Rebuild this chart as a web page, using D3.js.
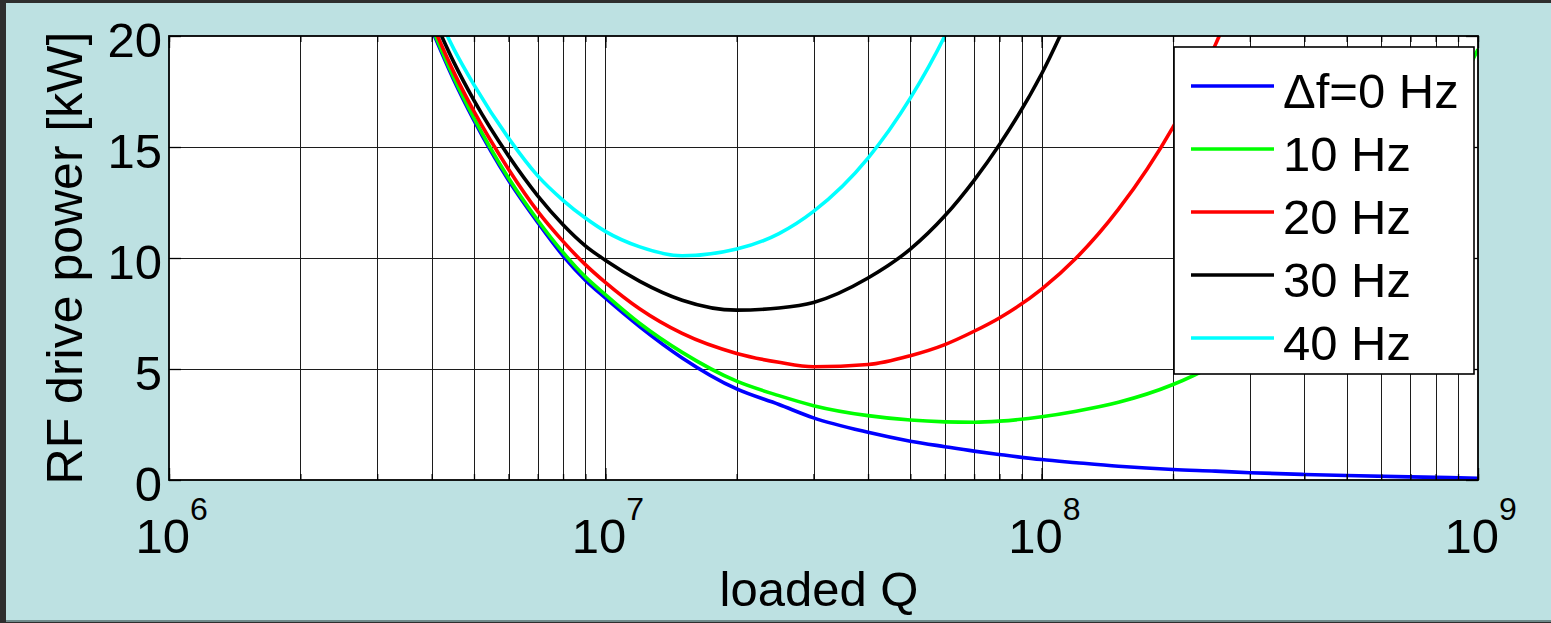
<!DOCTYPE html>
<html>
<head>
    <title>RF drive power vs loaded Q</title>
    <meta charset="utf-8">
    <style>
        body { margin: 0; background: #bde1e2; }
        text { font-family: "Liberation Sans", Arial, Helvetica, sans-serif; fill: #000; }
    </style>
</head>
<body>
<script src="https://d3js.org/d3.v7.min.js"></script>
<script>
    // Loaded Q sample points (shared by all curves)
    const qLoaded = [4e6, 4.5e6, 5e6, 6e6, 7e6, 8e6, 9e6, 1e7, 1.2e7, 1.5e7, 2e7, 2.5e7, 3e7, 4e7,
        5e7, 6e7, 7e7, 8e7, 1e8, 1.2e8, 1.5e8, 2e8, 2.5e8, 3e8, 4e8, 5e8, 7e8, 1e9];
    // RF drive power [kW] for each detuning, null = off the chart
    const pDf0 = [20.3, 18.0, 16.2, 13.5, 11.6, 10.1, 9.0, 8.2, 6.9, 5.5, 4.1, 3.4, 2.8, 2.15,
        1.75, 1.5, 1.3, 1.15, 0.92, 0.78, 0.62, 0.47, 0.4, 0.33, 0.25, 0.2, 0.14, 0.08];
    const pDf10 = [20.4, 18.1, 16.3, 13.6, 11.7, 10.25, 9.15, 8.35, 7.05, 5.75, 4.45, 3.8, 3.35, 2.9,
        2.7, 2.62, 2.6, 2.65, 2.85, 3.1, 3.5, 4.3, 5.2, 6.1, 8.0, 9.9, 13.7, 19.4];
    const pDf20 = [20.6, 18.35, 16.6, 14.0, 12.1, 10.75, 9.7, 8.9, 7.7, 6.6, 5.7, 5.3, 5.1, 5.2,
        5.6, 6.1, 6.7, 7.3, 8.6, 10.0, 12.2, 15.9, 19.6, 23.4, null, null, null, null];
    const pDf30 = [21.0, 18.8, 17.1, 14.6, 12.8, 11.5, 10.55, 9.9, 8.95, 8.1, 7.65, 7.75, 8.0, 9.1,
        10.4, 11.9, 13.5, 15.1, 18.3, 21.6, null, null, null, null, null, null, null, null];
    const pDf40 = [21.5, 19.4, 17.8, 15.4, 13.7, 12.6, 11.8, 11.2, 10.5, 10.1, 10.4, 11.1, 12.1, 14.5,
        17.2, 20.0, 22.9, null, null, null, null, null, null, null, null, null, null, null];
    const seriesNames = ['\u0394f=0 Hz', '10 Hz', '20 Hz', '30 Hz', '40 Hz'];
    const seriesColors = ['#0000ff', '#00ff00', '#ff0000', '#000000', '#00ffff'];
    const xDecades = [1e6, 1e7, 1e8, 1e9];
    const yTicks = [0, 5, 10, 15, 20];

    const W = 1551, H = 623;
    const M = {left: 169, right: 1478, top: 36, bottom: 480};
    const FONT = 49;

    const svg = d3.select('body').append('svg')
        .attr('width', W)
        .attr('height', H)
        .style('display', 'block');

    // Window frame
    svg.append('rect').attr('width', W).attr('height', H).attr('fill', '#2e2e2e');
    svg.append('rect').attr('x', 6).attr('y', 3).attr('width', W - 6).attr('height', H - 5).attr('fill', '#bde1e2');
    svg.append('rect').attr('x', 6).attr('y', H - 3).attr('width', W - 6).attr('height', 2).attr('fill', '#6f8a8a');

    const x = d3.scaleLog().domain([1e6, 1e9]).range([M.left, M.right]);
    const y = d3.scaleLinear().domain([0, 20]).range([M.bottom, M.top]);

    // Plot area
    svg.append('rect')
        .attr('x', M.left).attr('y', M.top)
        .attr('width', M.right - M.left).attr('height', M.bottom - M.top)
        .attr('fill', '#fff');

    // Grid lines at every minor decade step
    const minor = [];
    xDecades.slice(0, -1).forEach(d => { for (let k = 1; k < 10; k++) minor.push(d * k); });
    minor.push(1e9);

    const grid = svg.append('g').attr('stroke', '#1c1c1c').attr('stroke-width', 1);
    grid.selectAll('.vg').data(minor.slice(1, -1)).enter().append('line')
        .attr('x1', d => Math.round(x(d)) + 0.5).attr('x2', d => Math.round(x(d)) + 0.5)
        .attr('y1', M.top).attr('y2', M.bottom);
    grid.selectAll('.hg').data(yTicks.slice(1, -1)).enter().append('line')
        .attr('x1', M.left).attr('x2', M.right)
        .attr('y1', d => Math.round(y(d)) + 0.5).attr('y2', d => Math.round(y(d)) + 0.5);

    // Curves
    svg.append('clipPath').attr('id', 'plotClip').append('rect')
        .attr('x', M.left).attr('y', M.top)
        .attr('width', M.right - M.left).attr('height', M.bottom - M.top);

    const allSeries = [pDf0, pDf10, pDf20, pDf30, pDf40];
    const line = d3.line()
        .defined(d => d[1] !== null)
        .x(d => x(d[0]))
        .y(d => y(d[1]))
        .curve(d3.curveMonotoneX);

    svg.append('g').attr('clip-path', 'url(#plotClip)')
        .selectAll('path').data(allSeries).enter().append('path')
        .attr('d', s => line(s.map((p, i) => [qLoaded[i], p])))
        .attr('fill', 'none')
        .attr('stroke', (s, i) => seriesColors[i])
        .attr('stroke-width', 3.6)
        .attr('stroke-linejoin', 'round');

    // Axes (ticks inside, MATLAB style)
    const styleAxis = g => {
        g.select('.domain').remove();
        g.selectAll('line').attr('stroke', '#000').attr('stroke-width', 1.3);
        g.selectAll('text').style('font-size', FONT + 'px').style('font-family', '"Liberation Sans", Arial, sans-serif');
    };
    svg.append('g').attr('transform', `translate(${M.left},0)`)
        .call(d3.axisLeft(y).tickValues(yTicks).tickSizeInner(-12).tickSizeOuter(0).tickPadding(7))
        .call(styleAxis)
        .call(g => g.selectAll('text').attr('dy', '0.42em'));
    svg.append('g').attr('transform', `translate(${M.right},0)`)
        .call(d3.axisRight(y).tickValues(yTicks).tickSizeInner(-12).tickSizeOuter(0).tickFormat(''))
        .call(styleAxis);
    svg.append('g').attr('transform', `translate(0,${M.bottom})`)
        .call(d3.axisBottom(x).tickValues(xDecades).tickSizeInner(-12).tickSizeOuter(0).tickFormat(''))
        .call(styleAxis);
    svg.append('g').attr('transform', `translate(0,${M.top})`)
        .call(d3.axisTop(x).tickValues(xDecades).tickSizeInner(-12).tickSizeOuter(0).tickFormat(''))
        .call(styleAxis);
    svg.append('g').attr('transform', `translate(0,${M.bottom})`)
        .call(d3.axisBottom(x).tickValues(minor).tickSizeInner(-6).tickSizeOuter(0).tickFormat(''))
        .call(styleAxis);
    svg.append('g').attr('transform', `translate(0,${M.top})`)
        .call(d3.axisTop(x).tickValues(minor).tickSizeInner(-6).tickSizeOuter(0).tickFormat(''))
        .call(styleAxis);

    // Decade labels 10^n
    const xl = svg.append('g');
    xl.selectAll('.base').data(xDecades).enter().append('text')
        .attr('x', d => x(d) + 21).attr('y', 553)
        .attr('text-anchor', 'end')
        .style('font-size', FONT + 'px')
        .text('10');
    xl.selectAll('.exp').data(xDecades).enter().append('text')
        .attr('x', d => x(d) + 21).attr('y', 520)
        .style('font-size', '32px')
        .text(d => Math.round(Math.log10(d)));

    // Box
    svg.append('rect')
        .attr('x', M.left).attr('y', M.top)
        .attr('width', M.right - M.left).attr('height', M.bottom - M.top)
        .attr('fill', 'none').attr('stroke', '#000').attr('stroke-width', 1.8);

    // Axis titles
    svg.append('text')
        .attr('x', 819).attr('y', 606)
        .attr('text-anchor', 'middle')
        .style('font-size', FONT + 'px')
        .text('loaded Q');
    svg.append('text')
        .attr('transform', 'translate(82,258) rotate(-90)')
        .attr('text-anchor', 'middle')
        .style('font-size', '50px')
        .text('RF drive power [kW]');

    // Legend
    const legend = svg.append('g');
    legend.append('rect')
        .attr('x', 1174).attr('y', 47).attr('width', 300).attr('height', 327)
        .attr('fill', '#fff').attr('stroke', '#000').attr('stroke-width', 1.6);
    const rows = legend.selectAll('.row').data(seriesNames).enter().append('g')
        .attr('transform', (d, i) => `translate(0,${86 + i * 63})`);
    rows.append('line')
        .attr('x1', 1191).attr('x2', 1274)
        .attr('stroke', (d, i) => seriesColors[i])
        .attr('stroke-width', 3.6);
    rows.append('text')
        .attr('x', 1283).attr('y', 22)
        .style('font-size', FONT + 'px')
        .text(d => d);
</script>
</body>
</html>
